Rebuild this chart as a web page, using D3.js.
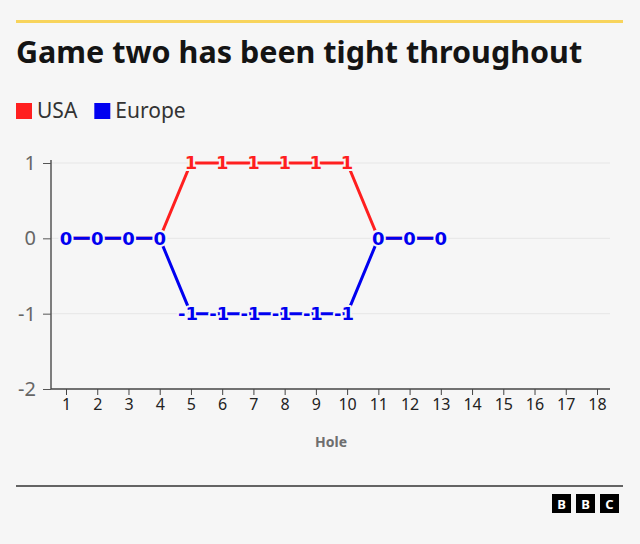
<!DOCTYPE html>
<html>
<head>
<meta charset="utf-8">
<script src="https://cdn.jsdelivr.net/npm/d3@7"></script>
<style>
  body { margin: 0; background: #f6f6f6; }
  svg { display: block; font-family: "Noto Sans", "Open Sans", sans-serif; }
</style>
</head>
<body>
<div id="chart"></div>
<script>
let width = 640;
let height = 544;

let holes = d3.range(1, 19);
let usa = [0, 0, 0, 0, 1, 1, 1, 1, 1, 1, 0, 0, 0];
let europe = [0, 0, 0, 0, -1, -1, -1, -1, -1, -1, 0, 0, 0];
let yTicks = [-2, -1, 0, 1];
let series = [
    { name: "USA", color: "#ff1f1f", values: usa },
    { name: "Europe", color: "#0000f0", values: europe }
];

let bg = "#f6f6f6";

let svg = d3.select("#chart")
    .append("svg")
    .attr("width", width)
    .attr("height", height);

svg.append("rect").attr("width", width).attr("height", height).attr("fill", bg);

// top rule and title
svg.append("rect")
    .attr("x", 16).attr("y", 20)
    .attr("width", 607).attr("height", 3)
    .attr("fill", "#f8d45c");
svg.append("text")
    .attr("x", 16).attr("y", 63)
    .style("font-size", "30.5px")
    .style("font-weight", 700)
    .attr("fill", "#141414")
    .text("Game two has been tight throughout");

// legend
let legend = svg.append("g").attr("transform", "translate(16,103)");
let lx = 0;
series.forEach(s => {
    let g = legend.append("g").attr("transform", "translate(" + lx + ",0)");
    g.append("rect").attr("width", 16).attr("height", 16).attr("fill", s.color);
    let t = g.append("text")
        .attr("x", 21).attr("y", 15)
        .style("font-size", "21px")
        .attr("fill", "#333")
        .text(s.name);
    lx += 21 + t.node().getComputedTextLength() + 17;
});

let x = d3.scaleLinear().domain([1, 18]).range([66, 597]);
let y = d3.scaleLinear().domain([-2, 1]).range([389, 163]);

// gridlines
svg.append("g")
    .selectAll("line")
    .data(yTicks.filter(d => d > -2))
    .enter().append("line")
    .attr("x1", 51).attr("x2", 610)
    .attr("y1", d => y(d)).attr("y2", d => y(d))
    .attr("stroke", "#e6e6e6").attr("stroke-width", 1);

// y axis
let yAxis = svg.append("g")
    .attr("transform", "translate(51,0)")
    .call(d3.axisLeft(y).tickValues(yTicks).tickFormat(d => String(d)).tickSize(8).tickPadding(7));
yAxis.select(".domain").attr("d", "M0,160V389").attr("stroke", "#555").attr("stroke-width", 1.5);
yAxis.selectAll(".tick line").attr("stroke", "#555");
yAxis.selectAll(".tick text")
    .style("font-size", "20px")
    .style("font-family", "Noto Sans, sans-serif")
    .attr("fill", "#666");

// x axis
let xAxis = svg.append("g")
    .attr("transform", "translate(0,389)")
    .call(d3.axisBottom(x).tickValues(holes).tickFormat(d => String(d)).tickSize(6).tickPadding(4));
xAxis.select(".domain").attr("d", "M51,0H610").attr("stroke", "#444").attr("stroke-width", 1.5);
xAxis.selectAll(".tick line").attr("stroke", "#444");
xAxis.selectAll(".tick text")
    .style("font-size", "16px")
    .style("font-family", "Noto Sans, sans-serif")
    .attr("fill", "#222");

svg.append("text")
    .attr("x", 331).attr("y", 447)
    .attr("text-anchor", "middle")
    .style("font-size", "14px")
    .style("font-weight", 700)
    .attr("fill", "#6e6e6e")
    .text("Hole");

// lines + value labels
let line = d3.line()
    .x((d, i) => x(holes[i]))
    .y(d => y(d));

let layers = svg.append("g");
series.forEach(s => {
    let g = layers.append("g");
    g.append("path")
        .attr("d", line(s.values))
        .attr("fill", "none")
        .attr("stroke", s.color)
        .attr("stroke-width", 3);
    g.selectAll("text")
        .data(s.values)
        .enter().append("text")
        .attr("x", (d, i) => x(holes[i]) + (d < 0 ? -3 : 0))
        .attr("y", d => y(d))
        .attr("dy", "0.36em")
        .attr("text-anchor", "middle")
        .style("font-family", "DejaVu Sans, sans-serif")
        .style("font-size", "18px")
        .style("font-weight", 700)
        .style("paint-order", "stroke")
        .attr("stroke", bg)
        .attr("stroke-width", 4)
        .attr("stroke-linejoin", "round")
        .attr("fill", s.color)
        .text(d => String(d));
});

// footer
svg.append("line")
    .attr("x1", 16).attr("x2", 623)
    .attr("y1", 486).attr("y2", 486)
    .attr("stroke", "#333").attr("stroke-width", 1.5);
let logo = svg.append("g").attr("transform", "translate(552,494)");
["B", "B", "C"].forEach((c, i) => {
    logo.append("rect").attr("x", i * 24).attr("width", 19).attr("height", 19).attr("fill", "#000");
    logo.append("text")
        .attr("x", i * 24 + 9.5).attr("y", 15)
        .attr("text-anchor", "middle")
        .style("font-size", "13px")
        .style("font-weight", 700)
        .attr("fill", "#fff")
        .text(c);
});
</script>
</body>
</html>
